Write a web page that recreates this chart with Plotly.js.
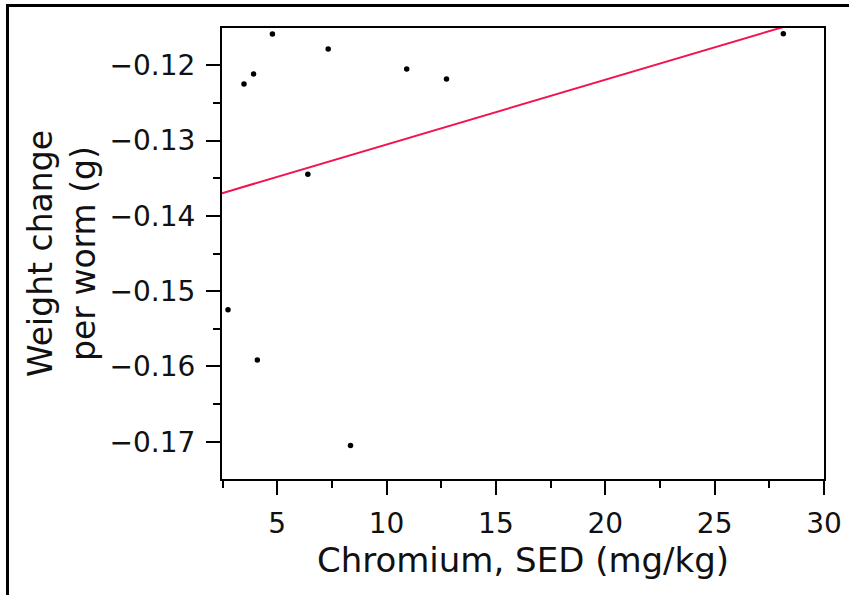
<!DOCTYPE html>
<html>
<head>
<meta charset="utf-8">
<script src="https://cdn.plot.ly/plotly-3.0.1.min.js"></script>
<style>
  html, body { margin: 0; padding: 0; background: #ffffff; }
  #frame { position: absolute; left: 6px; top: 4px; width: 860px; height: 588px;
           border-left: 3px solid #000; border-top: 3px solid #000; border-bottom: 1px solid #ddd; }
  #chart { position: absolute; left: 0; top: 0; width: 849px; height: 595px; }
</style>
</head>
<body>
<div id="frame"></div>
<div id="chart"></div>
<script>
// Data
const chromium = [2.75, 3.48, 3.92, 4.09, 4.78, 6.40, 7.33, 8.35, 10.92, 12.74, 28.14];
const weightChange = [-0.15248, -0.12248, -0.12115, -0.15916, -0.11584, -0.13447, -0.11784, -0.1705, -0.12049, -0.12182, -0.1158];
const fitX = [2.475, 30];
const fitY = [-0.13699, -0.11332];

const xTitle = "Chromium, SED (mg/kg)";
const yTitle = "Weight change<br>per worm (g)";

const font = "DejaVu Sans, sans-serif";

const traces = [
  {
    x: fitX, y: fitY, type: "scatter", mode: "lines",
    line: { color: "#f2124f", width: 2 }, hoverinfo: "skip", showlegend: false
  },
  {
    x: chromium, y: weightChange, type: "scatter", mode: "markers",
    marker: { color: "#000000", size: 5.5 }, showlegend: false, cliponaxis: false
  }
];

const axisCommon = {
  showgrid: false, zeroline: false,
  showline: true, linecolor: "#000", linewidth: 2, mirror: true,
  ticks: "outside", ticklen: 14, tickwidth: 2, tickcolor: "#000",
  tickfont: { family: font, size: 28, color: "#111" }
};

const layout = {
  width: 849, height: 595,
  margin: { l: 222, r: 25, t: 28, b: 116 },
  paper_bgcolor: "rgba(0,0,0,0)",
  plot_bgcolor: "#ffffff",
  showlegend: false,
  xaxis: Object.assign({}, axisCommon, {
    range: [2.475, 30], tick0: 0, dtick: 5,
    minor: { dtick: 2.5, ticks: "outside", ticklen: 7, tickwidth: 2, tickcolor: "#000" },
    ticklabelstandoff: 4,
    title: { text: xTitle, standoff: 6, font: { family: font, size: 34, color: "#111" } }
  }),
  yaxis: Object.assign({}, axisCommon, {
    range: [-0.17495, -0.11505], tick0: 0, dtick: 0.01, tickformat: ".2f",
    minor: { dtick: 0.005, ticks: "outside", ticklen: 7, tickwidth: 2, tickcolor: "#000" },
    ticklabelstandoff: 5,
    title: { text: yTitle, standoff: 4, font: { family: font, size: 33, color: "#111" } }
  })
};

Plotly.newPlot("chart", traces, layout, { displayModeBar: false, staticPlot: true });
</script>
</body>
</html>
